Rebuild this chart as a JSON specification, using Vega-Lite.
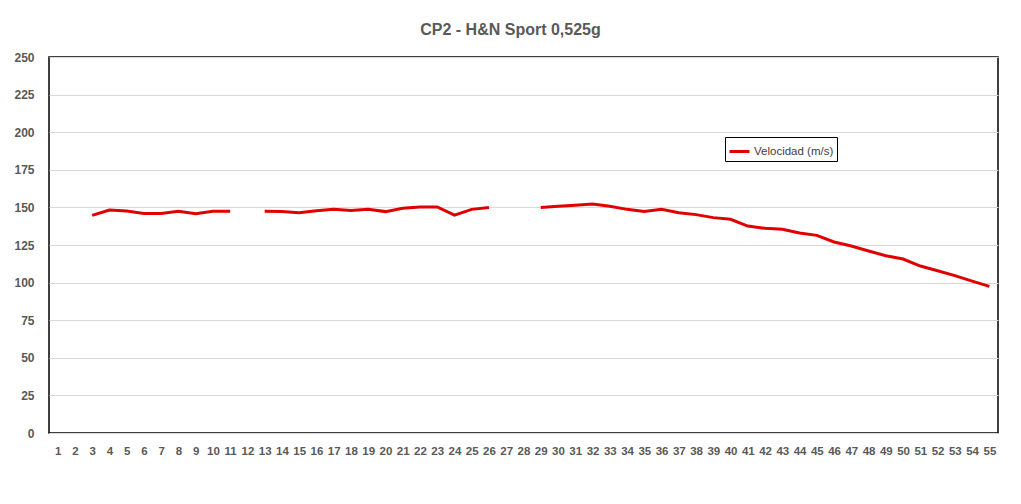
{
  "$schema": "https://vega.github.io/schema/vega-lite/v6.json",
  "width": 949,
  "height": 376,
  "autosize": {"type": "none"},
  "padding": {"left": 49, "top": 57, "right": 23, "bottom": 71},
  "background": "white",
  "title": {
    "text": "CP2 - H&N Sport 0,525g",
    "font": "Liberation Sans",
    "fontSize": 16,
    "fontWeight": "bold",
    "color": "#595959",
    "anchor": "middle",
    "dx": -13,
    "offset": 13
  },
  "config": {
    "view": {"stroke": "black", "strokeWidth": 1.5},
    "axis": {"labelFont": "Liberation Sans", "labelColor": "#595959", "labelFontWeight": "bold", "labelFontSize": 12}
  },
  "data": {
    "values": [
      {"n": 1, "v": null}, {"n": 2, "v": null}, {"n": 3, "v": 144.7}, {"n": 4, "v": 148.3},
      {"n": 5, "v": 147.6}, {"n": 6, "v": 146.0}, {"n": 7, "v": 146.0}, {"n": 8, "v": 147.4},
      {"n": 9, "v": 145.8}, {"n": 10, "v": 147.4}, {"n": 11, "v": 147.4}, {"n": 12, "v": null},
      {"n": 13, "v": 147.4}, {"n": 14, "v": 147.2}, {"n": 15, "v": 146.5}, {"n": 16, "v": 147.8},
      {"n": 17, "v": 148.7}, {"n": 18, "v": 148.0}, {"n": 19, "v": 148.7}, {"n": 20, "v": 147.2},
      {"n": 21, "v": 149.4}, {"n": 22, "v": 150.2}, {"n": 23, "v": 150.3}, {"n": 24, "v": 144.9},
      {"n": 25, "v": 148.7}, {"n": 26, "v": 150.0}, {"n": 27, "v": null}, {"n": 28, "v": null},
      {"n": 29, "v": 150.0}, {"n": 30, "v": 150.7}, {"n": 31, "v": 151.4}, {"n": 32, "v": 152.3},
      {"n": 33, "v": 150.7}, {"n": 34, "v": 148.7}, {"n": 35, "v": 147.2}, {"n": 36, "v": 148.7},
      {"n": 37, "v": 146.5}, {"n": 38, "v": 145.2}, {"n": 39, "v": 143.2}, {"n": 40, "v": 142.1},
      {"n": 41, "v": 137.6}, {"n": 42, "v": 136.1}, {"n": 43, "v": 135.4}, {"n": 44, "v": 133.0},
      {"n": 45, "v": 131.4}, {"n": 46, "v": 127.0}, {"n": 47, "v": 124.3}, {"n": 48, "v": 121.0},
      {"n": 49, "v": 117.9}, {"n": 50, "v": 115.7}, {"n": 51, "v": 111.0}, {"n": 52, "v": 107.9},
      {"n": 53, "v": 104.6}, {"n": 54, "v": 101.0}, {"n": 55, "v": 97.5}
    ]
  },
  "mark": {"type": "line", "strokeWidth": 3, "interpolate": "linear"},
  "encoding": {
    "x": {
      "field": "n",
      "type": "ordinal",
      "scale": {
        "type": "point",
        "padding": 0.5,
        "domain": [1,2,3,4,5,6,7,8,9,10,11,12,13,14,15,16,17,18,19,20,21,22,23,24,25,26,27,28,29,30,31,32,33,34,35,36,37,38,39,40,41,42,43,44,45,46,47,48,49,50,51,52,53,54,55]
      },
      "axis": {
        "title": null,
        "labelAngle": 0,
        "ticks": false,
        "labelPadding": 12,
        "labelBaseline": "top",
        "domainColor": "#d9d9d9",
        "domainWidth": 1,
        "grid": false,
        "labelFontSize": 11.5
      }
    },
    "y": {
      "field": "v",
      "type": "quantitative",
      "scale": {"domain": [0, 250], "nice": false},
      "axis": {
        "title": null,
        "values": [0, 25, 50, 75, 100, 125, 150, 175, 200, 225, 250],
        "ticks": false,
        "domain": false,
        "labelPadding": 15,
        "gridColor": "#d9d9d9",
        "gridWidth": 1
      }
    },
    "color": {
      "datum": "Velocidad (m/s)",
      "scale": {"range": ["#e00000"]},
      "legend": {
        "title": null,
        "orient": "none",
        "legendX": 676,
        "legendY": 80,
        "symbolType": "stroke",
        "symbolStrokeWidth": 3,
        "symbolSize": 400,
        "strokeColor": "black",
        "padding": 3,
        "labelFont": "Liberation Sans",
        "labelFontSize": 11.5,
        "labelColor": "#404040",
        "labelOffset": 3
      }
    }
  }
}
